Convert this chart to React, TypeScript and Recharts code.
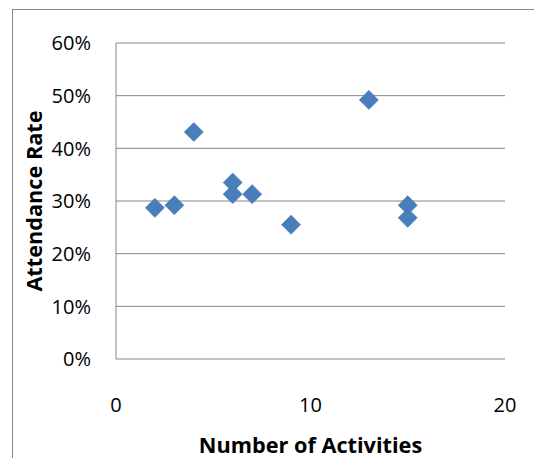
import React from 'react';
import { ScatterChart, Scatter, XAxis, YAxis, CartesianGrid, Label } from 'recharts';

const activities = [2, 3, 4, 6, 6, 7, 9, 13, 15, 15];
const attendance = [0.287, 0.292, 0.431, 0.335, 0.313, 0.313, 0.255, 0.492, 0.292, 0.268];
const xTicks = [0, 10, 20];
const yTicks = [0, 0.1, 0.2, 0.3, 0.4, 0.5, 0.6];
const xTitle = 'Number of Activities';
const yTitle = 'Attendance Rate';

const data = activities.map((a, i) => ({ x: a, y: attendance[i] }));

const FONT = '"Open Sans", sans-serif';
const GRAY = '#878787';
const BLUE = '#4a7ebb';
const TICK_SIZE = 20;
const TITLE_SIZE = 21.7;

const Diamond = (props: any) => {
  const { cx, cy } = props;
  if (cx == null || cy == null) return null;
  const r = 9.6;
  return (
    <polygon
      points={`${cx},${cy - r} ${cx + r},${cy} ${cx},${cy + r} ${cx - r},${cy}`}
      fill={BLUE}
      stroke={BLUE}
      strokeWidth={0.5}
    />
  );
};

const XTick = (props: any) => {
  const { x, y, payload } = props;
  return (
    <text
      x={x}
      y={y}
      dy={TICK_SIZE * 0.36}
      textAnchor="middle"
      fontFamily={FONT}
      fontSize={TICK_SIZE}
      fill="#000"
    >
      {payload.value}
    </text>
  );
};

const YTick = (props: any) => {
  const { x, y, payload } = props;
  return (
    <text
      x={x}
      y={y}
      dy={TICK_SIZE * 0.36}
      textAnchor="end"
      fontFamily={FONT}
      fontSize={TICK_SIZE}
      fill="#000"
    >
      {`${Math.round(payload.value * 100)}%`}
    </text>
  );
};

export default function App() {
  return (
    <div
      style={{
        position: 'fixed',
        left: 0,
        top: 0,
        width: 534,
        height: 458,
        overflow: 'hidden',
        background: '#fff',
      }}
    >
      <div
        style={{
          position: 'absolute',
          left: 12,
          top: 9,
          width: 600,
          height: 600,
          border: `1px solid ${GRAY}`,
          boxSizing: 'border-box',
        }}
      />
      <div style={{ position: 'absolute', left: 0, top: 0 }}>
        <ScatterChart
          width={534}
          height={458}
          margin={{ top: 43, right: 29, bottom: 0, left: 0 }}
        >
          <CartesianGrid horizontal vertical={false} stroke={GRAY} strokeWidth={1} />
          <XAxis
            type="number"
            dataKey="x"
            domain={[0, 20]}
            ticks={xTicks}
            height={99}
            axisLine={false}
            tickLine={false}
            tickSize={0}
            tickMargin={46}
            tick={<XTick />}
          >
            <Label
              content={(p: any) => {
                const vb = p.viewBox;
                return (
                  <text
                    x={vb.x + vb.width / 2}
                    y={vb.y + 94}
                    textAnchor="middle"
                    fontFamily={FONT}
                    fontWeight="bold"
                    fontSize={TITLE_SIZE}
                    fill="#000"
                  >
                    {xTitle}
                  </text>
                );
              }}
            />
          </XAxis>
          <YAxis
            type="number"
            dataKey="y"
            domain={[0, 0.6]}
            ticks={yTicks}
            width={116}
            axisLine={{ stroke: GRAY, strokeWidth: 1 }}
            tickLine={false}
            tickSize={0}
            tickMargin={25}
            tick={<YTick />}
          >
            <Label
              content={(p: any) => {
                const vb = p.viewBox;
                const cx = 42;
                const cy = vb.y + vb.height / 2;
                return (
                  <text
                    x={cx}
                    y={cy}
                    textAnchor="middle"
                    transform={`rotate(-90, ${cx}, ${cy})`}
                    fontFamily={FONT}
                    fontWeight="bold"
                    fontSize={TITLE_SIZE}
                    fill="#000"
                  >
                    {yTitle}
                  </text>
                );
              }}
            />
          </YAxis>
          <Scatter data={data} shape={<Diamond />} isAnimationActive={false} />
        </ScatterChart>
      </div>
    </div>
  );
}
